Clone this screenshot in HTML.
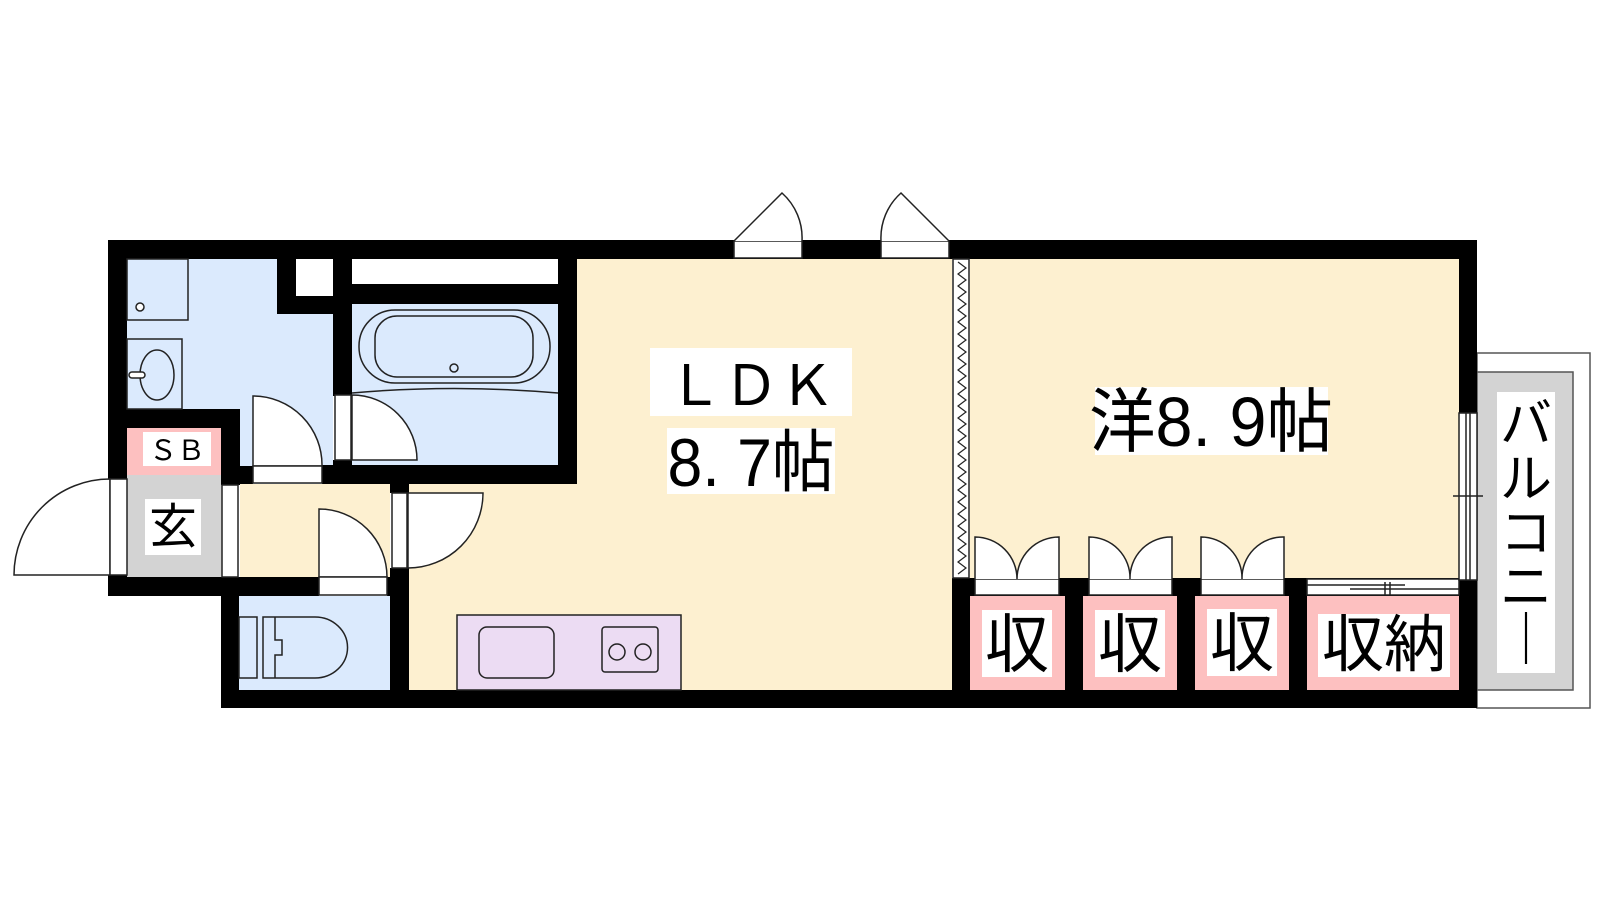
<!DOCTYPE html>
<html><head><meta charset="utf-8"><style>
html,body{margin:0;padding:0;background:#fff;}
svg{display:block;}
text{font-family:"Liberation Sans","Noto Sans CJK JP",sans-serif;fill:#000;}
</style></head><body>
<svg width="1600" height="900" viewBox="0 0 1600 900" xmlns="http://www.w3.org/2000/svg">
<!-- room fills -->
<rect x="127" y="259" width="206" height="150" fill="#dbeafd"/>
<rect x="240" y="409" width="93" height="75" fill="#dbeafd"/>
<rect x="352" y="304" width="206" height="161" fill="#dbeafd"/>
<rect x="239" y="596" width="151" height="94" fill="#dbeafd"/>
<rect x="240" y="484" width="150" height="93" fill="#fdf0d0"/>
<rect x="409" y="484" width="543" height="206" fill="#fdf0d0"/>
<rect x="577" y="259" width="375" height="431" fill="#fdf0d0"/>
<rect x="970" y="259" width="489" height="320" fill="#fdf0d0"/>
<rect x="127" y="475" width="95" height="102" fill="#d3d3d3"/>
<rect x="127" y="428" width="94" height="47" fill="#fdc0c0"/>
<!-- storage pink -->
<rect x="970" y="596" width="95" height="94" fill="#fdc0c0"/>
<rect x="1083" y="596" width="94" height="94" fill="#fdc0c0"/>
<rect x="1195" y="596" width="94" height="94" fill="#fdc0c0"/>
<rect x="1307" y="596" width="152" height="94" fill="#fdc0c0"/>
<!-- balcony -->
<rect x="1477" y="353" width="113" height="355" fill="#fff" stroke="#555" stroke-width="1.5"/>
<rect x="1477" y="372" width="96" height="318" fill="#d3d3d3" stroke="#555" stroke-width="1.5"/>

<!-- walls -->
<g fill="#000">
<rect x="108" y="240" width="1369" height="19"/>
<rect x="108" y="240" width="19" height="239"/>
<rect x="108" y="575" width="19" height="21"/>
<rect x="108" y="577" width="211" height="19"/>
<rect x="221" y="577" width="18" height="131"/>
<rect x="221" y="690" width="1256" height="18"/>
<rect x="1459" y="240" width="18" height="173"/>
<rect x="1459" y="580" width="18" height="128"/>
<rect x="127" y="409" width="113" height="19"/>
<rect x="221" y="409" width="19" height="76"/>
<rect x="221" y="466" width="32" height="18"/>
<rect x="277" y="259" width="56" height="55"/>
<rect x="333" y="259" width="19" height="137"/>
<rect x="333" y="460" width="19" height="24"/>
<rect x="352" y="284" width="206" height="20"/>
<rect x="558" y="259" width="19" height="225"/>
<rect x="322" y="465" width="255" height="19"/>
<rect x="390" y="465" width="19" height="28"/>
<rect x="390" y="568" width="19" height="140"/>
<rect x="387" y="577" width="22" height="19"/>
<rect x="952" y="578" width="18" height="130"/>
<rect x="952" y="578" width="507" height="18"/>
<rect x="1065" y="578" width="18" height="112"/>
<rect x="1177" y="578" width="18" height="112"/>
<rect x="1289" y="578" width="18" height="112"/>
</g>
<rect x="296" y="259" width="37" height="37" fill="#fff"/>
<rect x="352" y="259" width="206" height="25" fill="#fff"/>

<g fill="#fff" stroke="#222" stroke-width="1.5">
<rect x="127" y="259" width="61" height="61" fill="#dbeafd"/>
<circle cx="140" cy="307" r="4"/>
<rect x="127" y="339" width="55" height="70" fill="#dbeafd"/>
<ellipse cx="157" cy="375" rx="17" ry="25" fill="#dbeafd"/>
<rect x="129" y="372" width="16" height="6" rx="3"/>
<rect x="359" y="310" width="191" height="73" rx="36" fill="#dbeafd"/>
<rect x="375" y="316" width="158" height="61" rx="22" fill="#dbeafd"/>
<circle cx="454" cy="368" r="4" fill="#dbeafd"/>
<path d="M352 393 Q454 384 558 393" fill="none"/>
<path d="M253 396 A69 69 0 0 1 322 466 L253 466 Z"/>
<rect x="253" y="466" width="69" height="17"/>
<rect x="335" y="395" width="16" height="65"/>
<path d="M352 395 A65 65 0 0 1 417 460 L352 460 Z"/>
<path d="M110 479 A96 96 0 0 0 14 575 L110 575 Z"/>
<rect x="110" y="479" width="17" height="96"/>
<rect x="222" y="485" width="16" height="92"/>
<path d="M319 509 A68 68 0 0 1 387 577 L319 577 Z"/>
<rect x="319" y="577" width="68" height="18"/>
<rect x="392" y="493" width="15" height="75"/>
<path d="M408 493 L483 493 A75 75 0 0 1 408 568 Z"/>
<rect x="239" y="617" width="18" height="61" fill="#dbeafd"/>
<path d="M263 617 L315 617 A32 30 0 0 1 315 678 L263 678 Z" fill="#dbeafd"/>
<path d="M275 617 V640 H282 V655 H275 V678" fill="none"/>
<rect x="457" y="615" width="224" height="75" fill="#ecdcf3"/>
<rect x="479" y="627" width="75" height="51" rx="8" fill="#ecdcf3"/>
<rect x="602" y="627" width="56" height="45" rx="3" fill="#ecdcf3"/>
<circle cx="617" cy="652" r="8" fill="#ecdcf3"/>
<circle cx="643" cy="652" r="8" fill="#ecdcf3"/>
<rect x="734" y="241" width="68" height="17"/>
<path d="M734 241 L782 193 A60 60 0 0 1 802 241"/>
<rect x="881" y="241" width="68" height="17"/>
<path d="M949 241 L901 193 A60 60 0 0 0 881 241"/>
<rect x="953" y="259" width="16" height="319"/>
<rect x="975" y="579" width="84" height="16"/>
<path d="M975 579 V537 A42 42 0 0 1 1017 579 A42 42 0 0 1 1059 537 V579"/>
<rect x="1089" y="579" width="83" height="16"/>
<path d="M1089 579 V537 A41 41 0 0 1 1130 579 A41 41 0 0 1 1172 537 V579"/>
<rect x="1201" y="579" width="83" height="16"/>
<path d="M1201 579 V537 A41 41 0 0 1 1242 579 A41 41 0 0 1 1284 537 V579"/>
<rect x="1307" y="579" width="152" height="16"/>
<path d="M1307 585 H1405 M1350 589 H1459 M1385 582 V595 M1390 582 V595" fill="none"/>
<rect x="1459" y="413" width="18" height="167"/>
<path d="M1466 413 V580 M1470 413 V580 M1453 496 H1483 M1466 491 V501" fill="none"/>
</g>
<polyline fill="none" stroke="#222" stroke-width="1.2" points="958,262 966,268 958,274 966,280 958,286 966,292 958,298 966,304 958,310 966,316 958,322 966,328 958,334 966,340 958,346 966,352 958,358 966,364 958,370 966,376 958,382 966,388 958,394 966,400 958,406 966,412 958,418 966,424 958,430 966,436 958,442 966,448 958,454 966,460 958,466 966,472 958,478 966,484 958,490 966,496 958,502 966,508 958,514 966,520 958,526 966,532 958,538 966,544 958,550 966,556 958,562 966,568 958,574"/>

<g fill="#fff">
<rect x="143" y="432" width="68" height="34"/>
<rect x="145" y="499" width="56" height="56"/>
<rect x="650" y="348" width="202" height="68"/>
<rect x="667" y="428" width="168" height="66"/>
<rect x="1095" y="387" width="233" height="68"/>
<rect x="982" y="610" width="70" height="67"/>
<rect x="1095" y="610" width="70" height="67"/>
<rect x="1207" y="609" width="70" height="67"/>
<rect x="1318" y="614" width="132" height="63"/>
<rect x="1497" y="392" width="58" height="281"/>
</g>
<text x="177" y="460" font-size="28" text-anchor="middle">ＳＢ</text>
<text x="173" y="543" font-size="48" text-anchor="middle">玄</text>
<text x="751" y="405" font-size="56" text-anchor="middle">ＬＤＫ</text>
<text x="751" y="486" font-size="68" text-anchor="middle" transform="translate(751 0) scale(0.92 1) translate(-751 0)">8. 7帖</text>
<text x="1211" y="446" font-size="70" text-anchor="middle" transform="translate(1211 0) scale(0.95 1) translate(-1211 0)">洋8. 9帖</text>
<text x="1017" y="667" font-size="64" text-anchor="middle">収</text>
<text x="1130" y="667" font-size="64" text-anchor="middle">収</text>
<text x="1242" y="666" font-size="64" text-anchor="middle">収</text>
<text x="1384" y="666" font-size="62" text-anchor="middle">収納</text>
<g font-size="52" text-anchor="middle">
<text x="1526" y="442">バ</text>
<text x="1526" y="497">ル</text>
<text x="1526" y="551">コ</text>
<text x="1526" y="605">ニ</text>
<text x="1526" y="658">｜</text>
</g>
</svg>
</body></html>
